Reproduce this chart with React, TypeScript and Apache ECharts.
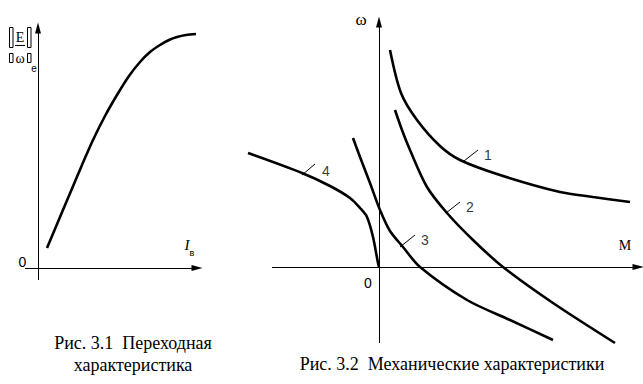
import React, { useEffect, useRef } from "react";
import * as echarts from "echarts";

// Fig 3.1 — transfer characteristic (data units)
const fig1X = [0.9, 2.2, 3.3, 4.4, 5.5, 6.7, 7.9, 9.1, 10.2, 11.2, 12.2, 13.1, 13.9, 14.8, 15.8];
const fig1Y = [2.0, 5.1, 7.7, 10.3, 12.8, 15.2, 17.3, 19.2, 20.6, 21.6, 22.3, 22.8, 23.1, 23.3, 23.4];
const fig1AxisX = [-1.3, 15.9];
const fig1AxisY = [-1.2, 24];

// Fig 3.2 — mechanical characteristics
const c1X = [1.1, 2.2, 3.8, 6.1, 8.1, 12.1, 18.1, 21.4, 25.1];
const c1Y = [21.7, 17.4, 14.7, 12.1, 10.7, 9.2, 7.5, 7.0, 6.5];
const c2X = [1.6, 2.3, 3.1, 4.8, 6.8, 9.4, 12.4, 17.4, 23.6];
const c2Y = [15.7, 13.7, 11.7, 8.0, 5.4, 2.7, 0, -3.6, -7.6];
const c3X = [-2.6, -1.9, -0.9, 0.1, 1.1, 2.4, 4.1, 8.8, 13.1, 17.4];
const c3Y = [12.9, 11.0, 8.4, 5.7, 3.6, 2.0, 0, -3.3, -5.3, -7.3];
const c4X = [-13.1, -7.7, -4.9, -2.9, -1.9, -1.2, -0.6, -0.1, 0];
const c4Y = [11.4, 9.4, 8.1, 6.9, 5.9, 5.0, 3.0, 0.4, 0];
const fig2AxisX = [-10.7, 25.9];
const fig2AxisY = [-7.6, 24.5];
const fig2Range = [-13.5, 25.9];

const curveNames = ["1", "2", "3", "4"];
const leaderFrom = [[8.5, 10.6], [6.7, 5.4], [2.1, 2.0], [-7.7, 9.2]];
const leaderTo = [[9.9, 11.7], [8.1, 6.5], [3.6, 3.2], [-6.4, 10.3]];
const labelAt = [[10.9, 11.2], [9.1, 6.0], [4.6, 2.7], [-5.3, 9.6]];

const SERIF = "'Liberation Serif', 'Times New Roman', 'DejaVu Serif', serif";
const SANS = "'Liberation Sans', Arial, sans-serif";

const zip = (xs: number[], ys: number[]) => xs.map((x, i) => [x, ys[i]]);

const txt = (x: number, y: number, text: string, family: string, size: number, extra: any = {}) => ({
  type: "text",
  x,
  y,
  style: {
    text,
    fontFamily: family,
    fontSize: size,
    fill: "#000",
    textAlign: "center",
    textVerticalAlign: "middle",
    ...extra,
  },
});

export default function App() {
  const ref = useRef<HTMLDivElement>(null);
  useEffect(() => {
    if (!ref.current) return;
    const chart = echarts.init(ref.current, null, { renderer: "svg" });
    const curveStyle = { color: "#000", width: 2.6 };
    const axisMark = (ax: number[], ay: number[]) => ({
      silent: true,
      symbol: ["none", "triangle"],
      symbolSize: [6, 11],
      label: { show: false },
      lineStyle: { color: "#000", width: 1, type: "solid" },
      data: [
        [{ coord: [ax[0], 0] }, { coord: [ax[1], 0] }],
        [{ coord: [0, ay[0]] }, { coord: [0, ay[1]] }],
      ],
    });
    const curve = (xs: number[], ys: number[], gi: number, extra: any = {}) => ({
      type: "line",
      xAxisIndex: gi,
      yAxisIndex: gi,
      data: zip(xs, ys),
      smooth: 0.3,
      showSymbol: false,
      symbol: "none",
      clip: false,
      lineStyle: curveStyle,
      ...extra,
    });
    const hiddenAxis = (gi: number, min: number, max: number) => ({
      type: "value",
      gridIndex: gi,
      min,
      max,
      axisLine: { show: false },
      axisTick: { show: false },
      axisLabel: { show: false },
      splitLine: { show: false },
    });
    const box = (x: number, y: number, h: number) => ({
      type: "rect",
      shape: { x, y, width: 3.5, height: h },
      style: { fill: "none", stroke: "#000", lineWidth: 1 },
    });
    chart.setOption({
      animation: false,
      backgroundColor: "#fff",
      grid: [
        { left: 25, right: 446, top: 28, bottom: 104 },
        { left: 244, right: 5, top: 22, bottom: 41 },
      ],
      xAxis: [
        hiddenAxis(0, fig1AxisX[0], fig1AxisX[1]),
        hiddenAxis(1, fig2Range[0], fig2Range[1]),
      ],
      yAxis: [
        hiddenAxis(0, fig1AxisY[0], fig1AxisY[1]),
        hiddenAxis(1, fig2AxisY[0], fig2AxisY[1]),
      ],
      series: [
        curve(fig1X, fig1Y, 0, { markLine: axisMark(fig1AxisX, fig1AxisY) }),
        curve(c1X, c1Y, 1, { markLine: axisMark(fig2AxisX, fig2AxisY) }),
        curve(c2X, c2Y, 1),
        curve(c3X, c3Y, 1),
        curve(c4X, c4Y, 1, {
          markLine: {
            silent: true,
            symbol: ["none", "none"],
            label: { show: false },
            lineStyle: { color: "#000", width: 1, type: "solid" },
            data: leaderFrom.map((f, i) => [{ coord: f }, { coord: leaderTo[i] }]),
          },
        }),
        {
          type: "scatter",
          xAxisIndex: 1,
          yAxisIndex: 1,
          symbolSize: 1,
          itemStyle: { color: "rgba(0,0,0,0)" },
          data: labelAt.map((p, i) => ({ value: p, name: curveNames[i] })),
          label: {
            show: true,
            position: "inside",
            formatter: (p: any) => p.name,
            fontFamily: SANS,
            fontSize: 14,
            color: "#000",
          },
        },
      ],
      graphic: [
        // y-axis label of Fig 3.1
        box(9.5, 27.5, 20),
        box(27.5, 27.5, 20),
        box(9.5, 53.5, 9),
        box(27.5, 53.5, 9),
        txt(20, 37, "E", SERIF, 14),
        { type: "line", shape: { x1: 15, y1: 45.5, x2: 25, y2: 45.5 }, style: { stroke: "#000", lineWidth: 1 } },
        txt(20, 58, "ω", SERIF, 14),
        txt(34, 68, "e", SANS, 10),
        // axis labels
        txt(22.5, 262, "0", SANS, 14),
        txt(187, 245, "I", SERIF, 15, { fontStyle: "italic" }),
        txt(192, 253, "в", SANS, 9),
        txt(361, 19, "ω", SERIF, 17),
        txt(625, 245, "M", SERIF, 14),
        txt(368, 283, "0", SANS, 14),
        // captions
        txt(133, 343, "Рис. 3.1  Переходная", SERIF, 18),
        txt(133, 365, "характеристика", SERIF, 18),
        txt(452, 364, "Рис. 3.2  Механические характеристики", SERIF, 18),
      ],
    });
    return () => chart.dispose();
  }, []);
  return (
    <div
      ref={ref}
      style={{ position: "fixed", left: 0, top: 0, width: 643, height: 384, background: "#fff" }}
    />
  );
}
